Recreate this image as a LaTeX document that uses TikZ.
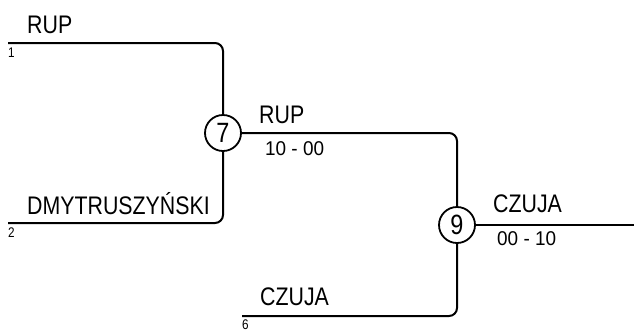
\documentclass[tikz,border=0pt]{standalone}
\usepackage{fontspec}
\setmainfont{Liberation Sans}[FakeStretch=0.84]
\newfontfamily\scorefont{Liberation Sans}[FakeStretch=0.95]
\begin{document}
\begin{tikzpicture}[x=1bp,y=-1bp,
  wire/.style={line width=2bp,rounded corners=8bp},
  game/.style={circle,draw,line width=1.8bp,minimum size=36bp,inner sep=0pt,font=\fontsize{28}{28}\selectfont},
  team/.style={anchor=base west,inner sep=0pt,font=\fontsize{25.5}{26}\selectfont},
  score/.style={anchor=base west,inner sep=0pt,font=\scorefont\fontsize{20}{20}\selectfont},
  seed/.style={anchor=base west,inner sep=0pt,font=\fontsize{14}{14}\selectfont}]
\useasboundingbox (0,0) rectangle (634,329);
\node[game] (c7) at (223,133) {7};
\node[game] (c9) at (457,225) {9};
\coordinate (s1) at (8,43);
\coordinate (s2) at (8,223);
\coordinate (s6) at (242,316);
\coordinate (e) at (634,225);
\draw[wire] (s1) -| (c7.north);
\draw[wire] (s2) -| (c7.south);
\draw[wire] (c7.east) -| (c9.north);
\draw[wire] (s6) -| (c9.south);
\draw[wire] (c9.east) -- (e);
\node[team] (t1) at (27,33) {RUP};
\node[seed] (n1) at (8,57) {1};
\node[team] (t2) at (27,214) {DMYTRUSZYŃSKI};
\node[seed] (n2) at (8,237) {2};
\node[team] (t7) at (259,123) {RUP};
\node[score] (r7) at (265,155) {10 - 00};
\node[team] (t9) at (493,212) {CZUJA};
\node[score] (r9) at (497,245) {00 - 10};
\node[team] (t6) at (260,305) {CZUJA};
\node[seed] (n6) at (242,329) {6};
\end{tikzpicture}
\end{document}
